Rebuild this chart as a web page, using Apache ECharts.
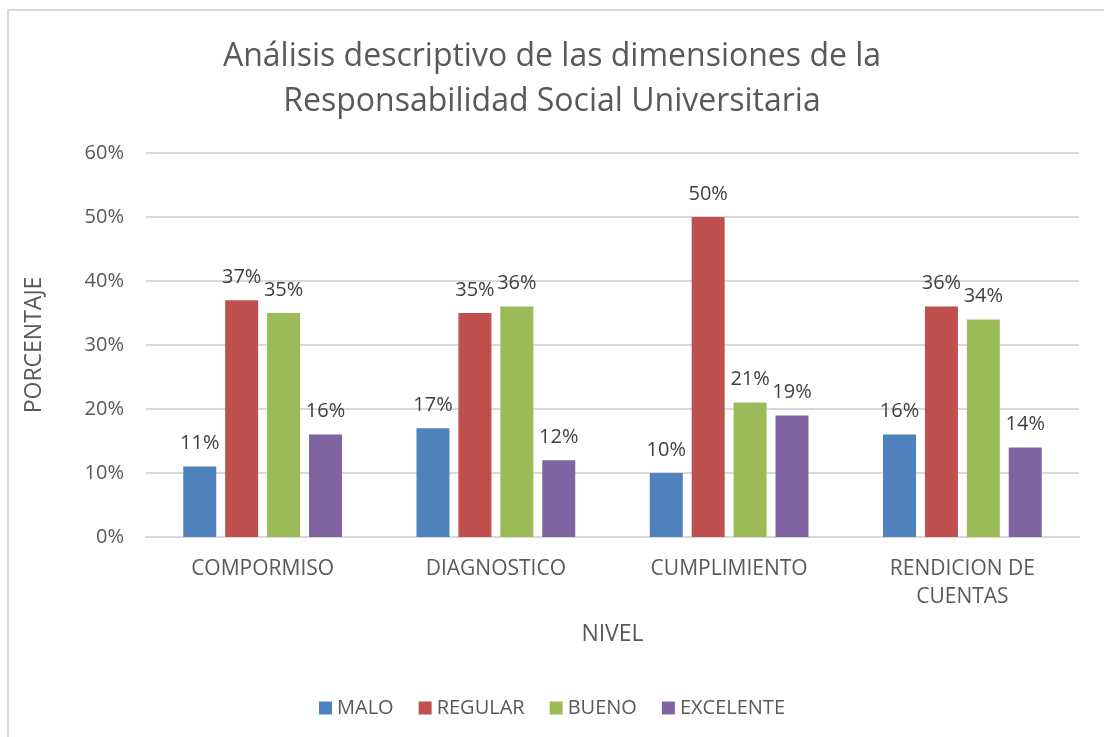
<!DOCTYPE html>
<html>
<head>
<meta charset="utf-8">
<script src="https://cdn.jsdelivr.net/npm/echarts@6/dist/echarts.min.js"></script>
<style>
    html, body { margin: 0; padding: 0; background: #fff; }
    #frame {
        position: absolute; left: 7px; top: 9px;
        width: 1200px; height: 800px;
        border: 2px solid #d9d9d9; box-sizing: border-box;
    }
    #chart { position: absolute; left: 0; top: 0; width: 1104px; height: 737px; }
</style>
</head>
<body>
<div id="frame"></div>
<div id="chart"></div>
<script>
    const categories = ['COMPORMISO', 'DIAGNOSTICO', 'CUMPLIMIENTO', 'RENDICION DE\nCUENTAS']
    const malo = [11, 17, 10, 16]
    const regular = [37, 35, 50, 36]
    const bueno = [35, 36, 21, 34]
    const excelente = [16, 12, 19, 14]
    const yTicks = [0, 10, 20, 30, 40, 50, 60]

    const font = '"Open Sans", sans-serif'
    const colors = ['#4f81bd', '#c0504d', '#9bbb59', '#8064a2']

    const makeSeries = (name, data, color) => ({
        name,
        type: 'bar',
        data,
        barWidth: 33,
        barGap: '27%',
        itemStyle: { color },
        label: {
            show: true,
            position: 'top',
            distance: 13,
            formatter: p => p.value + '%',
            color: '#404040',
            fontSize: 20,
            fontFamily: font
        }
    })

    const chart = echarts.init(document.getElementById('chart'))
    chart.setOption({
        animation: false,
        textStyle: { fontFamily: font },
        title: {
            text: 'Análisis descriptivo de las dimensiones de la\nResponsabilidad Social Universitaria',
            left: 'center',
            top: 29,
            textStyle: { fontSize: 32, fontWeight: 'normal', color: '#595959', lineHeight: 45, fontFamily: font }
        },
        legend: {
            bottom: 14,
            left: 'center',
            itemWidth: 13,
            itemHeight: 13,
            itemGap: 25,
            icon: 'rect',
            textStyle: { fontSize: 20, color: '#595959', fontFamily: font },
            data: ['MALO', 'REGULAR', 'BUENO', 'EXCELENTE']
        },
        grid: { left: 146, right: 25, top: 153, bottom: 200 },
        xAxis: {
            type: 'category',
            data: categories,
            name: 'NIVEL',
            nameLocation: 'middle',
            nameGap: 86,
            nameTextStyle: { fontSize: 23, color: '#595959', fontFamily: font },
            axisLine: { lineStyle: { color: '#d9d9d9', width: 2 } },
            axisTick: { show: false },
            axisLabel: { fontSize: 21, color: '#595959', margin: 18, lineHeight: 28, interval: 0, fontFamily: font }
        },
        yAxis: {
            type: 'value',
            min: 0,
            max: 60,
            interval: 10,
            name: 'PORCENTAJE',
            nameLocation: 'middle',
            nameGap: 100,
            nameTextStyle: { fontSize: 23, color: '#595959', fontFamily: font },
            axisLabel: {
                fontSize: 20, color: '#595959', margin: 22, fontFamily: font,
                formatter: v => yTicks.includes(v) ? v + '%' : ''
            },
            splitLine: { lineStyle: { color: '#d9d9d9', width: 2 } }
        },
        series: [
            makeSeries('MALO', malo, colors[0]),
            makeSeries('REGULAR', regular, colors[1]),
            makeSeries('BUENO', bueno, colors[2]),
            makeSeries('EXCELENTE', excelente, colors[3])
        ]
    })
</script>
</body>
</html>
